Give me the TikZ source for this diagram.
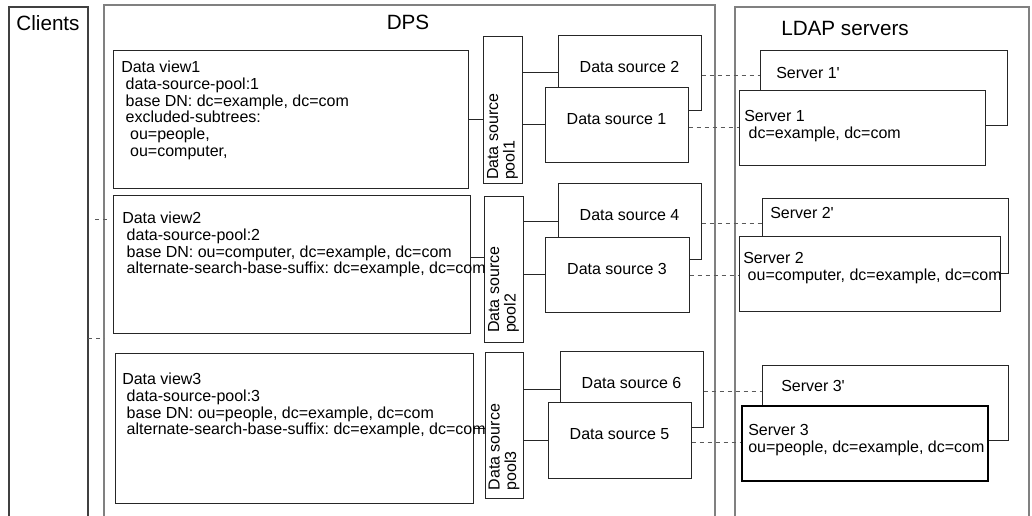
\documentclass[tikz,border=0pt]{standalone}
\usepackage{fontspec}
\setmainfont{Liberation Sans}
\usetikzlibrary{fit,calc}
\frenchspacing

\tikzset{
  frame/.style={draw=black!50, line width=0.9pt, inner sep=0pt},
  box/.style={draw=black!85, fill=white, line width=0.75pt, inner sep=0pt, font=\fontsize{12}{12.5}\selectfont},
  txt/.style={anchor=north west, inner sep=0pt, align=left, font=\fontsize{12}{12.5}\selectfont},
  pooltext/.style={rotate=90, anchor=west, inner sep=0pt, align=left, font=\fontsize{12}{12.5}\selectfont},
  title/.style={inner sep=0pt, font=\fontsize{15.5}{18}\selectfont},
  link/.style={draw=black!85, line width=0.75pt},
  dline/.style={draw=black!65, line width=0.75pt, dash pattern={on 3pt off 3pt}},
}

\begin{document}
\begin{tikzpicture}[x=0.75pt,y=0.75pt,yscale=-1,xscale=1]
    \useasboundingbox (0,0) rectangle (1032,515);
    \clip (0,0) rectangle (1032,515);

    % Frames
    \node (clients) [frame, draw=black!75, fit={(9,7) (88,530)}] {};
    \node (dps) [frame, fit={(104,5) (715,530)}] {};
    \node (ldap) [frame, fit={(735,7) (1029,530)}] {};
    \node (clientsttl) [title] at (48,23) {Clients};
    \node (dpsttl) [title] at (408,22) {DPS};
    \node (ldapttl) [title] at (845,28) {LDAP servers};

    % LDAP servers
    \node (sv1p) [box, fit={(760,50) (1007,125)}] {};
    \node (sv1) [box, fit={(739,90) (985,165)}] {};
    \node (sv2p) [box, fit={(762,198) (1008,273)}] {};
    \node (sv2) [box, fit={(739,236) (1000,311)}] {};
    \node (sv3p) [box, fit={(762,365) (1008,440)}] {};
    \node (sv3) [box, draw=black, line width=0.95pt, fit={(742,406) (988,481)}] {};

    % Data sources
    \node (ds2) [box, fit={(558,35) (701,110)}] {Data source 2};
    \node (ds1) [box, fit={(545,87) (688,162)}] {Data source 1};
    \node (ds4) [box, fit={(558,183) (701,259)}] {Data source 4};
    \node (ds3) [box, fit={(545,237) (689,312)}] {Data source 3};
    \node (ds6) [box, fit={(560,351) (703,427)}] {Data source 6};
    \node (ds5) [box, fit={(548,402) (691,478)}] {Data source 5};

    % Data source pools
    \node (pool1) [box, fit={(483,36) (522,183)}] {};
    \node (pool2) [box, fit={(484,196) (523,342)}] {};
    \node (pool3) [box, fit={(485,352) (523,498)}] {};

    % Data views
    \node (dv1) [box, fit={(113,50) (468,188)}] {};
    \node (dv2) [box, fit={(113,195) (470,333)}] {};
    \node (dv3) [box, fit={(115,353) (473,503)}] {};

    % Connectors
    \draw[link] (dv1.east) -- (dv1.east -| pool1.west);
    \draw[link] ([yshift=-5pt]dv2.east) -- ([yshift=-5pt]dv2.east -| pool2.west);
    \draw[link] (dv3.east) -- (dv3.east -| pool3.west);
    \draw[link] (ds2.west -| pool1.east) -- (ds2.west);
    \draw[link] (ds1.west -| pool1.east) -- (ds1.west);
    \draw[link] (ds4.west -| pool2.east) -- (ds4.west);
    \draw[link] (ds3.west -| pool2.east) -- (ds3.west);
    \draw[link] (ds6.west -| pool3.east) -- (ds6.west);
    \draw[link] (ds5.west -| pool3.east) -- (ds5.west);

    \draw[dline] ([yshift=2pt]ds2.east) -- ([yshift=2pt]ds2.east -| sv1p.west);
    \draw[dline] ([yshift=2pt]ds1.east) -- ([yshift=2pt]ds1.east -| sv1.west);
    \draw[dline] ([yshift=1.5pt]ds4.east) -- ([yshift=1.5pt]ds4.east -| sv2p.west);
    \draw[dline] ([yshift=1pt]ds3.east) -- ([yshift=1pt]ds3.east -| sv2.west);
    \draw[dline] ([yshift=1.5pt]ds6.east) -- ([yshift=1.5pt]ds6.east -| sv3p.west);
    \draw[dline] ([yshift=2pt]ds5.east) -- ([yshift=2pt]ds5.east -| sv3.west);

    % Stubs towards the clients
    \coordinate (stubA) at (95,219);
    \coordinate (stubB) at (107,219);
    \coordinate (stubC) at (88,338);
    \coordinate (stubD) at (104,338);
    \draw[dline] (stubA) -- (stubB);
    \draw[dline] (stubC) -- (stubD);

    % Pool labels
    \node (pool1txt) [pooltext] at ([yshift=-2.5pt]pool1.south) {Data source\\pool1};
    \node (pool2txt) [pooltext] at ([yshift=-7pt]pool2.south) {Data source\\pool2};
    \node (pool3txt) [pooltext] at ([yshift=-6pt]pool3.south) {Data source\\pool3};

    % Text Node
    \node (dv1txt) [txt] at (121,61) {Data view1\\
      \ data-source-pool:1\\
      \ base DN: dc=example, dc=com\\
      \ excluded-subtrees:\\
      \ \ ou=people,\\
      \ \ ou=computer,};
    \node (dv2txt) [txt] at (122,212) {Data view2\\
      \ data-source-pool:2\\
      \ base DN: ou=computer, dc=example, dc=com\\
      \ alternate-search-base-suffix: dc=example, dc=com};
    \node (dv3txt) [txt] at (122,373) {Data view3\\
      \ data-source-pool:3\\
      \ base DN: ou=people, dc=example, dc=com\\
      \ alternate-search-base-suffix: dc=example, dc=com};

    % Server text
    \node (sv1ptxt) [txt] at (776,67) {Server 1\textquotesingle};
    \node (sv1txt) [txt] at (744,110) {Server 1\\\ dc=example, dc=com};
    \node (sv2ptxt) [txt] at (770,207) {Server 2\textquotesingle};
    \node (sv2txt) [txt] at (743,252) {Server 2\\\ ou=computer, dc=example, dc=com};
    \node (sv3ptxt) [txt] at (781,380) {Server 3\textquotesingle};
    \node (sv3txt) [txt] at (748,424) {Server 3\\ou=people, dc=example, dc=com};

\end{tikzpicture}
\end{document}
